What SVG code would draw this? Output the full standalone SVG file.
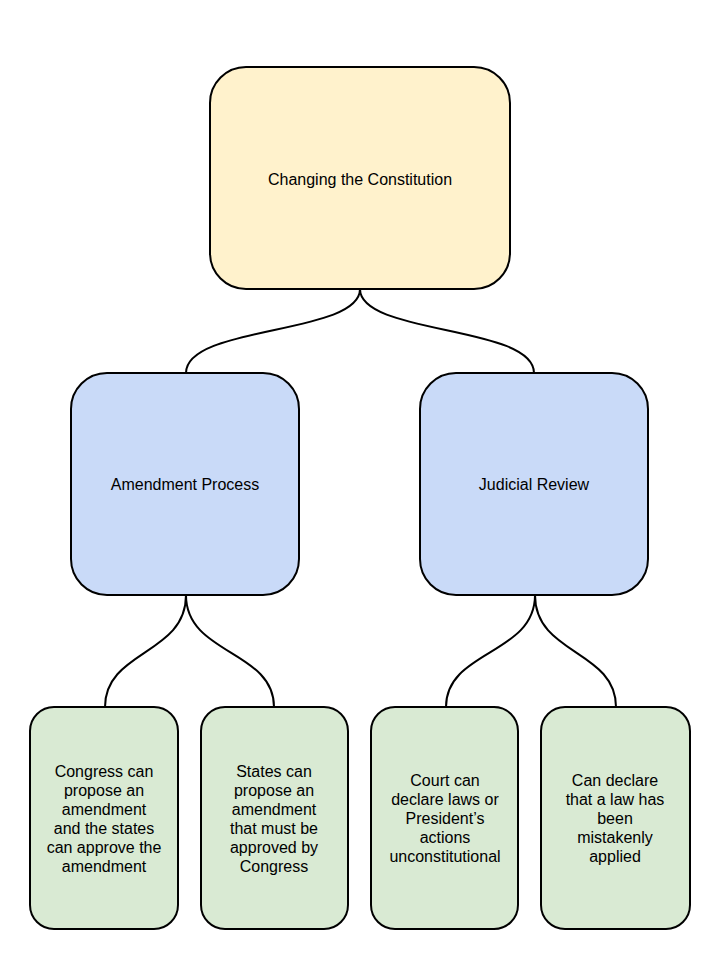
<svg xmlns="http://www.w3.org/2000/svg" width="720" height="960" viewBox="0 0 720 960">
<style>
.box{stroke:#000;stroke-width:2}
.top{fill:#fff2cc}
.mid{fill:#c9daf8}
.leaf{fill:#d9ead3}
text{font-family:"Liberation Sans",Arial,sans-serif;font-size:16px;fill:#000;text-anchor:middle}
.conn path{fill:none;stroke:#000;stroke-width:2}
</style>
<rect width="720" height="960" fill="#fff"/>
<g class="conn">
<path d="M360,289 C360,335 186,325 186,373"/>
<path d="M360,289 C360,335 534,325 534,373"/>
<path d="M186,595 C186,655 105,650 105,707"/>
<path d="M186,595 C186,655 274,650 274,707"/>
<path d="M535,595 C535,655 446,650 446,707"/>
<path d="M535,595 C535,655 616,650 616,707"/>
</g>
<g id="n-root">
<rect class="box top" x="210" y="67" width="300" height="222" rx="36"/>
<text x="360" y="185">Changing the Constitution</text>
</g>
<g id="n-amend">
<rect class="box mid" x="71" y="373" width="228" height="222" rx="36"/>
<text x="185" y="490">Amendment Process</text>
</g>
<g id="n-judicial">
<rect class="box mid" x="420" y="373" width="228" height="222" rx="36"/>
<text x="534" y="490">Judicial Review</text>
</g>
<g id="n-congress">
<rect class="box leaf" x="30" y="707" width="148" height="222" rx="24"/>
<text x="104" y="777">Congress can</text>
<text x="104" y="796">propose an</text>
<text x="104" y="815">amendment</text>
<text x="104" y="834">and the states</text>
<text x="104" y="853">can approve the</text>
<text x="104" y="872">amendment</text>
</g>
<g id="n-states">
<rect class="box leaf" x="201" y="707" width="147" height="222" rx="24"/>
<text x="274" y="777">States can</text>
<text x="274" y="796">propose an</text>
<text x="274" y="815">amendment</text>
<text x="274" y="834">that must be</text>
<text x="274" y="853">approved by</text>
<text x="274" y="872">Congress</text>
</g>
<g id="n-court">
<rect class="box leaf" x="371" y="707" width="147" height="222" rx="24"/>
<text x="445" y="786">Court can</text>
<text x="445" y="805">declare laws or</text>
<text x="445" y="824">President’s</text>
<text x="445" y="843">actions</text>
<text x="445" y="862">unconstitutional</text>
</g>
<g id="n-mistaken">
<rect class="box leaf" x="541" y="707" width="149" height="222" rx="24"/>
<text x="615" y="786">Can declare</text>
<text x="615" y="805">that a law has</text>
<text x="615" y="824">been</text>
<text x="615" y="843">mistakenly</text>
<text x="615" y="862">applied</text>
</g>
</svg>
